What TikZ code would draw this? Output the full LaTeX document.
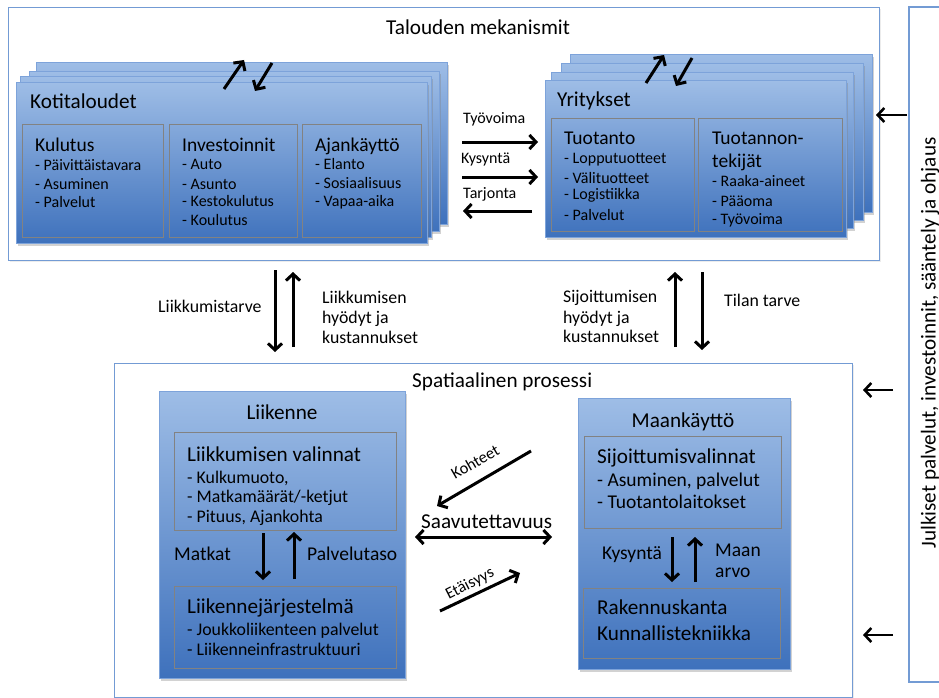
\documentclass[tikz,border=0pt]{standalone}
\usepackage{fontspec}
\setmainfont{Carlito}
\usetikzlibrary{arrows.meta,shadows}
\definecolor{frameblue}{RGB}{115,155,212}
\definecolor{boxedge}{RGB}{125,163,218}
\definecolor{gtop}{RGB}{158,189,230}
\definecolor{gbot}{RGB}{62,113,188}
\definecolor{innergray}{RGB}{130,130,130}
\newcommand\Tx[5]{\node[txt,#4] (#1) at (#2,#3) {#5};}
\tikzset{
  frame/.style={draw=frameblue, line width=1.3pt, fill=white,
    drop shadow={shadow xshift=1pt, shadow yshift=-1.5pt, opacity=0.15}},
  bluebox/.style={draw=boxedge, line width=0.9pt, top color=gtop, bottom color=gbot,
    anchor=north west, inner sep=0pt,
    drop shadow={shadow xshift=1.5pt, shadow yshift=-2.5pt, opacity=0.35}},
  innerbox/.style={draw=innergray, line width=0.9pt, anchor=north west, inner sep=0pt},
  arr/.style={line width=3pt, -{Straight Barb[length=6.5pt,width=14pt]}},
  darr/.style={line width=3pt, {Straight Barb[length=6.5pt,width=14pt]}-{Straight Barb[length=6.5pt,width=14pt]}},
  txt/.style={inner sep=0pt, anchor=base west},
  fA/.style={font=\fontsize{21.2}{25}\selectfont},
  fB/.style={font=\fontsize{19.5}{23}\selectfont},
  fC/.style={font=\fontsize{17.8}{21}\selectfont},
  fD/.style={font=\fontsize{16}{19}\selectfont},
  fE/.style={font=\fontsize{16.4}{19}\selectfont},
}
\begin{document}
\begin{tikzpicture}[x=1pt,y=-1pt]
\useasboundingbox (0,0) rectangle (939,698);
% ---------- frames ----------
\node[frame, anchor=north west, minimum width=871pt, minimum height=253pt, inner sep=0pt] (topframe) at (8,7) {};
\node[frame, anchor=north west, minimum width=738pt, minimum height=334pt, inner sep=0pt] (botframe) at (114,363) {};
\draw[frameblue, line width=1.3pt] (939,7) -- (909,7) -- (909,682) -- (939,682);
\node[fA, rotate=90, inner sep=0pt] (pub) at (930,343) {Julkiset palvelut, investoinnit, sääntely ja ohjaus};
% ---------- Kotitaloudet stack ----------
\node[bluebox, minimum width=411pt, minimum height=162pt] (kL4) at (36,62) {};
\node[bluebox, minimum width=410pt, minimum height=160pt] (kL3) at (29,71) {};
\node[bluebox, minimum width=411pt, minimum height=161pt] (kL2) at (20,76) {};
\node[bluebox, minimum width=411pt, minimum height=161pt] (koti) at (16,82) {};
\node[innerbox, minimum width=141pt, minimum height=113pt] (kul) at (22,124) {};
\node[innerbox, minimum width=128pt, minimum height=113pt] (inv) at (169,124) {};
\node[innerbox, minimum width=119pt, minimum height=113pt] (aja) at (302,124) {};
% ---------- Yritykset stack ----------
\node[bluebox, minimum width=302pt, minimum height=158pt] (yL4) at (570,54) {};
\node[bluebox, minimum width=302pt, minimum height=157pt] (yL3) at (561,63) {};
\node[bluebox, minimum width=302pt, minimum height=156pt] (yL2) at (551,72) {};
\node[bluebox, minimum width=301pt, minimum height=157pt] (yri) at (545,80) {};
\node[innerbox, minimum width=143pt, minimum height=113pt] (tuo) at (551,118) {};
\node[innerbox, minimum width=144pt, minimum height=113pt] (tek) at (698,118) {};
% ---------- bottom boxes ----------
\node[bluebox, minimum width=246pt, minimum height=287pt] (liik) at (159,391) {};
\node[innerbox, minimum width=222pt, minimum height=98pt] (lval) at (174,432) {};
\node[innerbox, minimum width=222pt, minimum height=82pt] (ljar) at (174,586) {};
\node[bluebox, minimum width=212pt, minimum height=271pt] (maa) at (578,398) {};
\node[innerbox, minimum width=197pt, minimum height=92pt] (sval) at (584,436) {};
\node[innerbox, minimum width=197pt, minimum height=70pt] (rak) at (583,588) {};
% ---------- top texts ----------
\Tx{t0}{386}{35}{fA}{Talouden mekanismit}
\Tx{t1}{30}{109}{fA}{Kotitaloudet}
\Tx{t2}{35}{151}{fB}{Kulutus}
\Tx{t3}{182}{151}{fB}{Investoinnit}
\Tx{t4}{315}{151}{fB}{Ajankäyttö}
\Tx{t5}{35}{170}{fD}{- Päivittäistavara}
\Tx{t6}{35}{189}{fD}{- Asuminen}
\Tx{t7}{35}{207}{fD}{- Palvelut}
\Tx{t8}{182}{169}{fD}{- Auto}
\Tx{t9}{182}{189}{fD}{- Asunto}
\Tx{t10}{182}{206}{fD}{- Kestokulutus}
\Tx{t11}{182}{225}{fD}{- Koulutus}
\Tx{t12}{315}{169}{fD}{- Elanto}
\Tx{t13}{315}{188}{fD}{- Sosiaalisuus}
\Tx{t14}{315}{206}{fD}{- Vapaa-aika}
\Tx{t15}{557}{107}{fA}{Yritykset}
\Tx{t16}{564}{144}{fB}{Tuotanto}
\Tx{t17}{564}{163}{fD}{- Lopputuotteet}
\Tx{t18}{564}{183}{fD}{- Välituotteet}
\Tx{t19}{564}{199}{fD}{- Logistiikka}
\Tx{t20}{564}{220}{fD}{- Palvelut}
\Tx{t21}{712}{144}{fB}{Tuotannon-}
\Tx{t22}{712}{167}{fB}{tekijät}
\Tx{t23}{712}{186}{fD}{- Raaka-aineet}
\Tx{t24}{712}{206}{fD}{- Pääoma}
\Tx{t25}{712}{224}{fD}{- Työvoima}
\Tx{t26}{463}{124}{fD}{Työvoima}
\Tx{t27}{461}{163}{fD}{Kysyntä}
\Tx{t28}{463}{198}{fD}{Tarjonta}
% ---------- middle texts ----------
\Tx{m1}{158}{312}{fC}{Liikkumistarve}
\Tx{m2}{322}{303}{fC}{Liikkumisen}
\Tx{m3}{322}{323}{fC}{hyödyt ja}
\Tx{m4}{322}{343}{fC}{kustannukset}
\Tx{m5}{563}{302}{fC}{Sijoittumisen}
\Tx{m6}{563}{323}{fC}{hyödyt ja}
\Tx{m7}{563}{342}{fC}{kustannukset}
\Tx{m8}{724}{306}{fC}{Tilan tarve}
% ---------- bottom texts ----------
\Tx{b0}{412}{387}{fA}{Spatiaalinen prosessi}
\node[txt, fA, anchor=base] (b1) at (282,419) {Liikenne};
\Tx{b2}{187}{461}{fA}{Liikkumisen valinnat}
\Tx{b3}{187}{483}{fC}{- Kulkumuoto,}
\Tx{b4}{187}{502}{fC}{- Matkamäärät/-ketjut}
\Tx{b5}{187}{522}{fC}{- Pituus, Ajankohta}
\Tx{b6}{174}{560}{fB}{Matkat}
\Tx{b7}{307}{560}{fB}{Palvelutaso}
\Tx{b8}{187}{613}{fA}{Liikennejärjestelmä}
\Tx{b9}{187}{635}{fC}{- Joukkoliikenteen palvelut}
\Tx{b10}{187}{655}{fC}{- Liikenneinfrastruktuuri}
\node[txt, fA, anchor=base] (b11) at (683,427) {Maankäyttö};
\Tx{b12}{597}{463}{fA}{Sijoittumisvalinnat}
\Tx{b13}{597}{486}{fB}{- Asuminen, palvelut}
\Tx{b14}{597}{508}{fB}{- Tuotantolaitokset}
\Tx{b15}{602}{559}{fB}{Kysyntä}
\Tx{b16}{715}{556}{fB}{Maan}
\Tx{b17}{715}{577}{fB}{arvo}
\Tx{b18}{597}{614}{fA}{Rakennuskanta}
\Tx{b19}{597}{640}{fA}{Kunnallistekniikka}
\Tx{b20}{421}{528}{fA}{Saavutettavuus}
\node[fE, inner sep=0pt, rotate=30] (b21) at (475,462) {Kohteet};
\node[fE, inner sep=0pt, rotate=27] (b22) at (470,584) {Etäisyys};
% ---------- arrows ----------
\coordinate (k1a) at (224,89);  \coordinate (k1b) at (244,60);
\coordinate (k2a) at (272,63);  \coordinate (k2b) at (255,91);
\coordinate (y1a) at (646,83);  \coordinate (y1b) at (664,55);
\coordinate (y2a) at (692,58);  \coordinate (y2b) at (676,86);
\draw[arr] (k1a) -- (k1b);
\draw[arr] (k2a) -- (k2b);
\draw[arr] (y1a) -- (y1b);
\draw[arr] (y2a) -- (y2b);
\coordinate (h1a) at (462,142); \coordinate (h1b) at (538,142);
\coordinate (h2a) at (462,177); \coordinate (h2b) at (538,177);
\coordinate (h3a) at (532,211); \coordinate (h3b) at (463,211);
\draw[arr] (h1a) -- (h1b);
\draw[arr] (h2a) -- (h2b);
\draw[arr] (h3a) -- (h3b);
\coordinate (r1a) at (907,115); \coordinate (r1b) at (876,115);
\coordinate (r2a) at (893,390); \coordinate (r2b) at (863,390);
\coordinate (r3a) at (893,635); \coordinate (r3b) at (863,635);
\draw[arr, line width=2.6pt] (r1a) -- (r1b);
\draw[arr, line width=2.6pt] (r2a) -- (r2b);
\draw[arr, line width=2.6pt] (r3a) -- (r3b);
\coordinate (v1a) at (275,270); \coordinate (v1b) at (275,352);
\coordinate (v2a) at (293,347); \coordinate (v2b) at (293,272);
\coordinate (v3a) at (675,347); \coordinate (v3b) at (675,272);
\coordinate (v4a) at (702,272); \coordinate (v4b) at (702,350);
\draw[arr] (v1a) -- (v1b);
\draw[arr] (v2a) -- (v2b);
\draw[arr] (v3a) -- (v3b);
\draw[arr] (v4a) -- (v4b);
\coordinate (w1a) at (263,533); \coordinate (w1b) at (263,580);
\coordinate (w2a) at (294,579); \coordinate (w2b) at (294,532);
\coordinate (w3a) at (672,537); \coordinate (w3b) at (672,582);
\coordinate (w4a) at (695,582); \coordinate (w4b) at (695,537);
\draw[arr] (w1a) -- (w1b);
\draw[arr] (w2a) -- (w2b);
\draw[arr] (w3a) -- (w3b);
\draw[arr] (w4a) -- (w4b);
\coordinate (d1a) at (531,451); \coordinate (d1b) at (437,506);
\coordinate (d2a) at (440,611); \coordinate (d2b) at (520,573);
\coordinate (sa) at (415,537);  \coordinate (sb) at (552,537);
\draw[arr] (d1a) -- (d1b);
\draw[arr] (d2a) -- (d2b);
\draw[darr] (sa) -- (sb);
\end{tikzpicture}
\end{document}
